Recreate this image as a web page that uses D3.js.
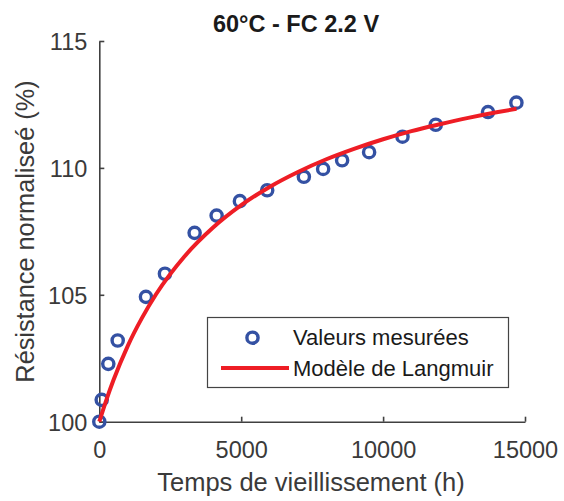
<!DOCTYPE html>
<html>
<head>
<meta charset="utf-8">
<script src="https://cdn.jsdelivr.net/npm/d3@7"></script>
<style>
    body { margin: 0; background: #fff; }
    text { font-family: "Liberation Sans", Arial, sans-serif; }
</style>
</head>
<body>
<svg id="chart" width="564" height="501"></svg>
<script>
// measured points (h, %)
const measTime  = [0, 85, 317, 648, 1644, 2313, 3359, 4134, 4954, 5916, 7208, 7887, 8556, 9507, 10683, 11856, 13697, 14697];
const measValue = [100.0, 100.86, 102.28, 103.2, 104.92, 105.83, 107.44, 108.12, 108.69, 109.12, 109.65, 109.96, 110.30, 110.62, 111.23, 111.70, 112.20, 112.57];

// Langmuir model curve
const modelTime  = [0, 250, 500, 1000, 1500, 2000, 3000, 4000, 5000, 6000, 7000, 8000, 9000, 10000, 11000, 12000, 13000, 14000, 14700];
const modelValue = [100, 100.86, 101.64, 102.98, 104.08, 105.02, 106.51, 107.64, 108.53, 109.25, 109.84, 110.34, 110.76, 111.13, 111.45, 111.72, 111.97, 112.19, 112.33];

const xTicks = [0, 5000, 10000, 15000];
const yTicks = [100, 105, 110, 115];

const titleText = '60°C - FC 2.2 V';
const xLabel = 'Temps de vieillissement (h)';
const yLabel = 'Résistance normaliseé (%)';
const legendLabels = ['Valeurs mesurées', 'Modèle de Langmuir'];

const axisColor = '#404040';
const blue = '#3451a3';
const red = '#ee1d25';

let svg = d3.select('#chart');

let x = d3.scaleLinear().domain([0, 15000]).range([99.3, 525]);
let y = d3.scaleLinear().domain([100, 115]).range([421.7, 41]);

// axes (ticks point inward)
let xAxis = svg.append('g')
    .attr('transform', 'translate(0,' + y(100) + ')')
    .call(d3.axisBottom(x).tickValues(xTicks).tickFormat(d3.format('d'))
        .tickSize(-5).tickSizeOuter(0).tickPadding(20));
let yAxis = svg.append('g')
    .attr('transform', 'translate(' + x(0) + ',0)')
    .call(d3.axisLeft(y).tickValues(yTicks).tickFormat(d3.format('d'))
        .tickSize(-5).tickSizeOuter(0).tickPadding(12));

[xAxis, yAxis].forEach((g) => {
    g.select('.domain').attr('stroke', axisColor).attr('stroke-width', 1.6);
    g.selectAll('.tick line').attr('stroke', axisColor).attr('stroke-width', 1.6);
    g.selectAll('.tick text')
        .attr('fill', '#3a3a3a')
        .style('font-size', '23.5px');
});
yAxis.selectAll('.tick text').attr('dy', '0.36em');
xAxis.selectAll('.tick text').attr('dy', '0.71em');

// measured values
let meas = measTime.map((t, i) => { return { t: t, v: measValue[i] }; });
svg.append('g')
    .selectAll('circle')
    .data(meas)
    .enter()
    .append('circle')
    .attr('cx', (d) => { return x(d.t); })
    .attr('cy', (d) => { return y(d.v); })
    .attr('r', 5.6)
    .attr('fill', 'none')
    .attr('stroke', blue)
    .attr('stroke-width', 3.4);

// model line
let model = modelTime.map((t, i) => { return { t: t, v: modelValue[i] }; });
let line = d3.line()
    .x((d) => { return x(d.t); })
    .y((d) => { return y(d.v); })
    .curve(d3.curveMonotoneX);
svg.append('path')
    .datum(model)
    .attr('d', line)
    .attr('fill', 'none')
    .attr('stroke', red)
    .attr('stroke-width', 4);

// title and axis labels
svg.append('text')
    .attr('x', 296)
    .attr('y', 31.5)
    .attr('text-anchor', 'middle')
    .attr('font-weight', 'bold')
    .attr('fill', '#1a1a1a')
    .style('font-size', '23.5px')
    .text(titleText);

svg.append('text')
    .attr('x', 311)
    .attr('y', 491)
    .attr('text-anchor', 'middle')
    .attr('fill', '#3a3a3a')
    .style('font-size', '25.5px')
    .text(xLabel);

svg.append('text')
    .attr('transform', 'translate(34,231.5) rotate(-90)')
    .attr('text-anchor', 'middle')
    .attr('fill', '#3a3a3a')
    .style('font-size', '25.3px')
    .text(yLabel);

// legend
let legend = svg.append('g');
legend.append('rect')
    .attr('x', 207.5)
    .attr('y', 317.5)
    .attr('width', 301)
    .attr('height', 70)
    .attr('fill', '#fff')
    .attr('stroke', '#444')
    .attr('stroke-width', 1.2);
legend.append('circle')
    .attr('cx', 252.5)
    .attr('cy', 337.7)
    .attr('r', 5.6)
    .attr('fill', 'none')
    .attr('stroke', blue)
    .attr('stroke-width', 3.4);
legend.append('line')
    .attr('x1', 221)
    .attr('x2', 289)
    .attr('y1', 368)
    .attr('y2', 368)
    .attr('stroke', red)
    .attr('stroke-width', 4);
legend.selectAll('text.lab')
    .data(legendLabels)
    .enter()
    .append('text')
    .attr('class', 'lab')
    .attr('x', 293)
    .attr('y', (d, i) => { return 345 + i * 31; })
    .attr('fill', '#1a1a1a')
    .style('font-size', '22px')
    .text((d) => { return d; });
</script>
</body>
</html>
